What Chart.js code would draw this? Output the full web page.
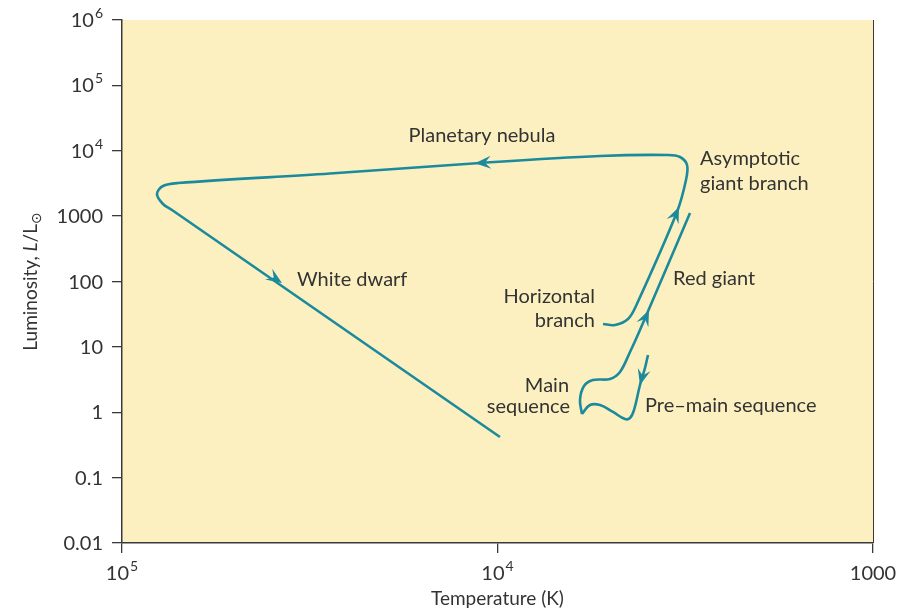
<!DOCTYPE html>
<html><head><meta charset="utf-8">
<script src="https://cdn.jsdelivr.net/npm/chart.js@4/dist/chart.umd.min.js"></script>
<style>html,body{margin:0;padding:0;background:#fff}#wrap{width:906px;height:608px;position:relative}canvas{display:block}</style>
</head><body><div id="wrap"><canvas id="c" width="906" height="608" style="width:906px;height:608px"></canvas></div>
<script>
// ---- data ----
const yTicks = [0.01, 0.1, 1, 10, 100, 1000, 1e4, 1e5, 1e6];
const yTickBase = ['0.01', '0.1', '1', '10', '100', '1000', '10', '10', '10'];
const yTickSup  = ['', '', '', '', '', '', '4', '5', '6'];
const xTicks = [1e5, 1e4, 1000];
const xTickBase = ['10', '10', '1000'];
const xTickSup  = ['5', '4', ''];

// pre-main sequence (contracting protostar down to the main sequence)
const preMainT = [3974, 4048, 4174, 4330, 4437, 4577, 4926, 5333, 5671, 5957];
const preMainL = [7.5, 4.75, 2.61, 1.08, 0.817, 0.788, 1.01, 1.29, 1.29, 0.94];
// main sequence -> red giant branch
const redGiantT = [5957, 6030, 5884, 5569, 5016, 4719, 4437, 4174, 3071];
const redGiantL = [0.94, 1.54, 2.52, 3.11, 3.23, 4.13, 8.35, 18.1, 1117];
// horizontal branch -> AGB -> planetary nebula -> white dwarf
const lateT = [5236, 4866, 4493, 4278, 3327, 3148, 3128, 3266, 3515, 5333, 11130, 27930, 70940, 77780, 80700, 77780, 73600, 9850];
const lateL = [22.4, 21.6, 26.7, 42.2, 1157, 3570, 6050, 8020, 8610, 8310, 6500, 4487, 3210, 2890, 2180, 1532, 1240, 0.418];

// arrowheads: tip and a point behind it on the track
const arrowTipT  = [4174, 3949, 3286, 11480, 37490];
const arrowTipL  = [2.61, 36.6, 1380, 6450, 94.8];
const arrowFromT = [3974, 4174, 4278, 5333, 77780];
const arrowFromL = [7.5, 18.1, 42.2, 8310, 1532];

// text labels (anchor at baseline)
const labelText  = ['Planetary nebula', 'Asymptotic', 'giant branch', 'White dwarf', 'Red giant', 'Horizontal', 'branch', 'Main', 'sequence', 'Pre\u2013main sequence'];
const labelT     = [11000, 2888, 2888, 34200, 3409, 5501, 5501, 6449, 6410, 4048];
const labelL     = [13600, 6053, 2512, 85.4, 88.4, 46.9, 20.1, 2.04, 0.975, 1.01];
const labelAlign = ['center', 'left', 'left', 'left', 'left', 'right', 'right', 'right', 'right', 'left'];

const BG = '#FDF0C0';
const TEAL = '#1B8A9C';
const AXIS = '#3a3a3a';
const TXT = '#333333';
const FONT = 'Lato, "Open Sans", sans-serif';

const pts = (T, L) => T.map((t, i) => ({x: t, y: L[i]}));

const deco = {
  id: 'deco',
  beforeDraw(chart) {
    const {ctx, chartArea: a} = chart;
    ctx.save();
    ctx.fillStyle = BG;
    ctx.fillRect(a.left, a.top, a.right - a.left, a.bottom - a.top);
    ctx.restore();
  },
  afterDatasetsDraw(chart) {
    const {ctx} = chart;
    const xs = chart.scales.x, ys = chart.scales.y;
    ctx.save();
    ctx.fillStyle = TEAL;
    for (let i = 0; i < arrowTipT.length; i++) {
      const px = xs.getPixelForValue(arrowTipT[i]), py = ys.getPixelForValue(arrowTipL[i]);
      const fx = xs.getPixelForValue(arrowFromT[i]), fy = ys.getPixelForValue(arrowFromL[i]);
      let dx = px - fx, dy = py - fy; const d = Math.hypot(dx, dy); dx /= d; dy /= d;
      const nx = -dy, ny = dx, Ln = 16, W = 6.5;
      ctx.beginPath();
      ctx.moveTo(px, py);
      ctx.lineTo(px - Ln * dx + W * nx, py - Ln * dy + W * ny);
      ctx.lineTo(px - 0.62 * Ln * dx, py - 0.62 * Ln * dy);
      ctx.lineTo(px - Ln * dx - W * nx, py - Ln * dy - W * ny);
      ctx.closePath();
      ctx.fill();
    }
    ctx.restore();
  },
  afterDraw(chart) {
    const {ctx, chartArea: a} = chart;
    const xs = chart.scales.x, ys = chart.scales.y;
    ctx.save();
    // right edge line
    ctx.strokeStyle = AXIS; ctx.lineWidth = 1;
    ctx.beginPath(); ctx.moveTo(a.right + 0.5, a.top); ctx.lineTo(a.right + 0.5, a.bottom); ctx.stroke();
    ctx.fillStyle = TXT;
    ctx.textBaseline = 'alphabetic';
    // y tick labels
    for (let i = 0; i < yTicks.length; i++) {
      const y = ys.getPixelForValue(yTicks[i]);
      ctx.font = '14px ' + FONT;
      const sw = yTickSup[i] ? ctx.measureText(yTickSup[i]).width + 1 : 0;
      const right = 103;
      if (yTickSup[i]) { ctx.textAlign = 'right'; ctx.fillText(yTickSup[i], right, y - 2); }
      ctx.font = '20px ' + FONT; ctx.textAlign = 'right';
      ctx.fillText(yTickBase[i], right - sw, y + 7);
    }
    // x tick labels
    for (let i = 0; i < xTicks.length; i++) {
      const x = xs.getPixelForValue(xTicks[i]);
      ctx.font = '20px ' + FONT;
      const bw = ctx.measureText(xTickBase[i]).width;
      ctx.font = '14px ' + FONT;
      const sw = xTickSup[i] ? ctx.measureText(xTickSup[i]).width + 1 : 0;
      const left = x - (bw + sw) / 2;
      ctx.textAlign = 'left';
      ctx.font = '20px ' + FONT; ctx.fillText(xTickBase[i], left, 580);
      if (xTickSup[i]) { ctx.font = '14px ' + FONT; ctx.fillText(xTickSup[i], left + bw + 1, 571); }
    }
    // x title
    ctx.font = '19px ' + FONT; ctx.textAlign = 'center';
    ctx.fillText('Temperature (K)', (a.left + a.right) / 2, 605);
    // y title
    ctx.save();
    ctx.translate(37, (a.top + a.bottom) / 2);
    ctx.rotate(-Math.PI / 2);
    const parts = [['Luminosity, ', '19px ' + FONT, 0], ['L', 'italic 19px ' + FONT, 0], ['/L', '19px ' + FONT, 0], ['\u2299', '14px "DejaVu Sans", ' + FONT, 4]];
    let tw = 0;
    parts.forEach(p => { ctx.font = p[1]; tw += ctx.measureText(p[0]).width; });
    let cx = -tw / 2;
    ctx.textAlign = 'left';
    parts.forEach(p => { ctx.font = p[1]; ctx.fillText(p[0], cx, p[2]); cx += ctx.measureText(p[0]).width; });
    ctx.restore();
    // annotations
    ctx.font = '20px ' + FONT;
    for (let i = 0; i < labelText.length; i++) {
      ctx.textAlign = labelAlign[i];
      ctx.fillText(labelText[i], xs.getPixelForValue(labelT[i]), ys.getPixelForValue(labelL[i]));
    }
    ctx.restore();
  }
};

const lineDs = (data, tension) => ({
  data, showLine: true, borderColor: TEAL, borderWidth: 2.6, pointRadius: 0,
  pointHoverRadius: 0, tension, fill: false, borderCapStyle: 'butt', borderJoinStyle: 'round'
});

new Chart(document.getElementById('c'), {
  type: 'scatter',
  data: {
    datasets: [
      lineDs(pts(preMainT, preMainL), 0.4),
      lineDs(pts(redGiantT, redGiantL), 0.35),
      lineDs(pts(lateT, lateL), 0.35)
    ]
  },
  options: {
    responsive: false, animation: false, devicePixelRatio: 1,
    layout: {padding: {top: 20, right: 33, left: 0, bottom: 0}},
    plugins: {legend: {display: false}, tooltip: {enabled: false}},
    events: [],
    scales: {
      x: {
        type: 'logarithmic', reverse: true, min: 1000, max: 1e5,
        afterBuildTicks: s => { s.ticks = xTicks.map(v => ({value: v})); },
        afterFit: s => { s.height = 65; },
        ticks: {callback: () => '', autoSkip: false, maxRotation: 0},
        grid: {drawOnChartArea: false, drawTicks: true, tickLength: 10, color: AXIS, lineWidth: 1.3},
        border: {display: true, color: AXIS, width: 1.5}
      },
      y: {
        type: 'logarithmic', min: 0.01, max: 1e6,
        afterBuildTicks: s => { s.ticks = yTicks.map(v => ({value: v})); },
        afterFit: s => { s.width = 122; },
        ticks: {callback: () => '', autoSkip: false},
        grid: {drawOnChartArea: false, drawTicks: true, tickLength: 10, color: AXIS, lineWidth: 1.3},
        border: {display: true, color: AXIS, width: 1.5}
      }
    }
  },
  plugins: [deco]
});
</script></body></html>
